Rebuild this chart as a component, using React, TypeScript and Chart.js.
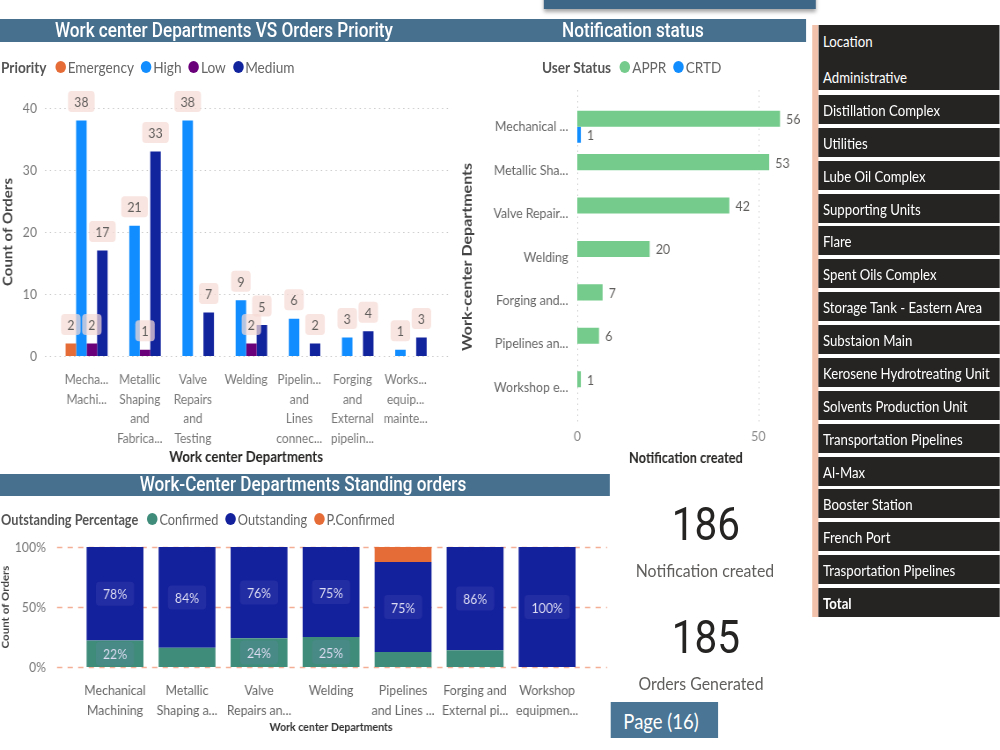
import React, { useEffect, useRef } from "react";
import { Chart, registerables } from "chart.js";

Chart.register(...registerables);

// ---------- data ----------
const priorityDepartments = [
  ["Mecha...", "Machi..."],
  ["Metallic", "Shaping", "and", "Fabrica..."],
  ["Valve", "Repairs", "and", "Testing"],
  ["Welding"],
  ["Pipelin...", "and", "Lines", "connec..."],
  ["Forging", "and", "External", "pipelin..."],
  ["Works...", "equip...", "mainte..."],
];
const priorityNames = ["Emergency", "High", "Low", "Medium"];
const priorityColors = ["#e66c37", "#118dff", "#6b007b", "#12239e"];
const emergencyOrders = [2, null, null, null, null, null, null];
const highOrders = [38, 21, 38, 9, 6, 3, 1];
const lowOrders = [2, 1, null, 2, null, null, null];
const mediumOrders = [17, 33, 7, 5, 2, 4, 3];
const priorityTicks = [0, 10, 20, 30, 40];

const notificationDepartments = [
  "Mechanical ...",
  "Metallic Sha...",
  "Valve Repair...",
  "Welding",
  "Forging and...",
  "Pipelines an...",
  "Workshop e...",
];
const statusNames = ["APPR", "CRTD"];
const statusColors = ["#74cb8b", "#118dff"];
const apprNotifications = [56, 53, 42, 20, 7, 6, 1];
const crtdNotifications = [1, null, null, null, null, null, null];
const notificationTicks = [0, 50];

const standingDepartments = [
  ["Mechanical", "Machining"],
  ["Metallic", "Shaping a..."],
  ["Valve", "Repairs an..."],
  ["Welding"],
  ["Pipelines", "and Lines ..."],
  ["Forging and", "External pi..."],
  ["Workshop", "equipmen..."],
];
const standingNames = ["Confirmed", "Outstanding", "P.Confirmed"];
const standingColors = ["#3f8c7a", "#14219c", "#e66c37"];
const confirmedPct = [22, 16, 24, 25, 12.5, 14, 0];
const outstandingPct = [78, 84, 76, 75, 75, 86, 100];
const pConfirmedPct = [0, 0, 0, 0, 12.5, 0, 0];
const percentTicks = [0, 50, 100];

const locations = [
  "Distillation Complex",
  "Utilities",
  "Lube Oil Complex",
  "Supporting Units",
  "Flare",
  "Spent Oils Complex",
  "Storage Tank - Eastern Area",
  "Substaion Main",
  "Kerosene Hydrotreating Unit",
  "Solvents Production Unit",
  "Transportation Pipelines",
  "Al-Max",
  "Booster Station",
  "French Port",
  "Trasportation Pipelines",
];
const notificationsCreated = 186;
const ordersGenerated = 185;
const pageNumber = 16;

// ---------- layout helpers ----------
// The whole report is laid out on a wider stage and squeezed horizontally.
const S = 0.88;
const sx = (v: number) => v / S;
const BODY = "Lato, 'Open Sans', sans-serif";
const HEAD = "Roboto, 'Noto Sans', sans-serif";
const BAND = "#47708f";

Chart.defaults.font.family = BODY;

// Dotted / dashed guide lines that run a little past the plot area.
const guideLines = {
  id: "guideLines",
  beforeDatasetsDraw(chart: any, _a: any, o: any) {
    if (!o || !o.axis) return;
    const { ctx, chartArea } = chart;
    const scale = chart.scales[o.axis];
    ctx.save();
    ctx.strokeStyle = o.color;
    ctx.lineWidth = o.width || 1;
    ctx.setLineDash([o.on, o.off]);
    scale.ticks.forEach((t: any) => {
      const p = Math.round(scale.getPixelForValue(t.value)) + 0.5;
      ctx.beginPath();
      if (o.axis === "y") {
        ctx.moveTo(chartArea.left - o.before, p);
        ctx.lineTo(chartArea.right + o.after, p);
      } else {
        ctx.moveTo(p, chartArea.top - o.before);
        ctx.lineTo(p, chartArea.bottom + o.after);
      }
      ctx.stroke();
    });
    ctx.restore();
  },
};

// Value tags above the grouped priority bars.
const priorityTags = {
  id: "priorityTags",
  afterDatasetsDraw(chart: any) {
    const { ctx } = chart;
    ctx.save();
    ctx.font = `14px ${BODY}`;
    ctx.textAlign = "center";
    ctx.textBaseline = "middle";
    chart.data.datasets.forEach((ds: any, i: number) => {
      chart.getDatasetMeta(i).data.forEach((el: any, j: number) => {
        const v = ds.data[j];
        if (v == null) return;
        const { x, y } = el.getProps(["x", "y"], true);
        const cy = y - 19;
        const text = String(v);
        const w = ctx.measureText(text).width + 14;
        const h = 21;
        ctx.fillStyle = "rgba(245, 218, 212, 0.72)";
        ctx.beginPath();
        ctx.roundRect(x - w / 2, cy - h / 2, w, h, 4);
        ctx.fill();
        ctx.fillStyle = "#605e5c";
        ctx.fillText(text, x, cy + 1);
      });
    });
    ctx.restore();
  },
};

// Values printed at the end of the horizontal bars.
const endValues = {
  id: "endValues",
  afterDatasetsDraw(chart: any) {
    const { ctx } = chart;
    ctx.save();
    ctx.font = `14px ${BODY}`;
    ctx.textAlign = "left";
    ctx.textBaseline = "middle";
    ctx.fillStyle = "#605e5c";
    chart.data.datasets.forEach((ds: any, i: number) => {
      chart.getDatasetMeta(i).data.forEach((el: any, j: number) => {
        const v = ds.data[j];
        if (v == null) return;
        const { x, y } = el.getProps(["x", "y"], true);
        ctx.fillText(String(v), x + 7, y + 1);
      });
    });
    ctx.restore();
  },
};

// Percent tags in the middle of the stacked segments.
const segmentTags = {
  id: "segmentTags",
  afterDatasetsDraw(chart: any) {
    const { ctx } = chart;
    ctx.save();
    ctx.font = `14px ${BODY}`;
    ctx.textAlign = "center";
    ctx.textBaseline = "middle";
    chart.data.datasets.forEach((ds: any, i: number) => {
      if (ds.label === "P.Confirmed") return;
      chart.getDatasetMeta(i).data.forEach((el: any, j: number) => {
        const v = ds.data[j];
        if (!v || v < 20) return;
        const { x, y, base } = el.getProps(["x", "y", "base"], true);
        const cy = (y + base) / 2;
        const text = `${v}%`;
        const w = ctx.measureText(text).width + 16;
        const h = 24;
        ctx.fillStyle = "rgba(140, 120, 210, 0.12)";
        ctx.beginPath();
        ctx.roundRect(x - w / 2, cy - h / 2, w, h, 4);
        ctx.fill();
        ctx.fillStyle = "#dcdcf2";
        ctx.fillText(text, x, cy + 1);
      });
    });
    ctx.restore();
  },
};

const flatX = { grid: { display: false, drawTicks: false }, border: { display: false } };
// Tick length (not drawn) keeps the labels off the plot without growing the top padding.
const flatY = (gap: number) => ({
  grid: { display: false, drawTicks: true, tickLength: gap },
  border: { display: false },
});

function priorityConfig(): any {
  const series = [emergencyOrders, highOrders, lowOrders, mediumOrders];
  return {
    type: "bar",
    data: {
      labels: priorityDepartments,
      datasets: priorityNames.map((n, i) => ({
        label: n,
        data: series[i],
        backgroundColor: priorityColors[i],
        categoryPercentage: 0.79,
        barPercentage: 1,
      })),
    },
    options: {
      responsive: false,
      animation: false,
      layout: { padding: { top: 28, right: sx(28), left: 0, bottom: 0 } },
      plugins: {
        legend: { display: false },
        tooltip: { enabled: false },
        guideLines: { axis: "y", color: "#c8c8c8", on: 1.5, off: 4, before: sx(15), after: sx(18) },
      },
      scales: {
        x: {
          ...flatX,
          ticks: {
            autoSkip: false,
            maxRotation: 0,
            minRotation: 0,
            padding: 14,
            color: "#777",
            font: { size: 13.5, lineHeight: 1.45 },
          },
          title: {
            display: true,
            text: "Work center Departments",
            color: "#252423",
            font: { size: 15, weight: "bold" },
            padding: { top: 0, bottom: 4 },
          },
          afterFit(s: any) {
            s.height = 114;
          },
        },
        y: {
          ...flatY(sx(23)),
          min: priorityTicks[0],
          max: priorityTicks[priorityTicks.length - 1],
          afterBuildTicks(s: any) {
            s.ticks = priorityTicks.map((v) => ({ value: v }));
          },
          ticks: { padding: 0, color: "#777", font: { size: 14 } },
          title: {
            display: true,
            text: "Count of Orders",
            color: "#444",
            font: { size: 15, weight: "bold", lineHeight: 1 },
            padding: { top: 2, bottom: 0 },
          },
          afterFit(s: any) {
            s.width = sx(60);
          },
        },
      },
    },
    plugins: [guideLines, priorityTags],
  };
}

function notificationConfig(): any {
  const series = [apprNotifications, crtdNotifications];
  return {
    type: "bar",
    data: {
      labels: notificationDepartments,
      datasets: statusNames.map((n, i) => ({
        label: n,
        data: series[i],
        backgroundColor: statusColors[i],
        categoryPercentage: 0.74,
        barPercentage: 1,
      })),
    },
    options: {
      indexAxis: "y",
      responsive: false,
      animation: false,
      layout: { padding: { top: 15, right: sx(16), left: 0, bottom: 0 } },
      plugins: {
        legend: { display: false },
        tooltip: { enabled: false },
        guideLines: { axis: "x", color: "#cfcfcf", on: 1.5, off: 4, before: 15, after: 14 },
      },
      scales: {
        x: {
          ...flatX,
          min: 0,
          max: 60,
          afterBuildTicks(s: any) {
            s.ticks = notificationTicks.map((v) => ({ value: v }));
          },
          ticks: { padding: 19, color: "#888", font: { size: 14 } },
          title: {
            display: true,
            text: "Notification created",
            color: "#252423",
            font: { size: 14.5, weight: "bold" },
            padding: { top: 0, bottom: 3 },
          },
          afterFit(s: any) {
            s.height = 61;
          },
        },
        y: {
          ...flatY(sx(9)),
          ticks: { autoSkip: false, padding: 0, color: "#666", font: { size: 14 } },
          title: {
            display: true,
            text: "Work-center Departments",
            color: "#444",
            font: { size: 16, weight: "bold", lineHeight: 1 },
            padding: { top: 0, bottom: 0 },
          },
          afterFit(s: any) {
            s.width = sx(117);
          },
        },
      },
    },
    plugins: [guideLines, endValues],
  };
}

function standingConfig(): any {
  const series = [confirmedPct, outstandingPct, pConfirmedPct];
  return {
    type: "bar",
    data: {
      labels: standingDepartments,
      datasets: standingNames.map((n, i) => ({
        label: n,
        data: series[i],
        backgroundColor: standingColors[i],
        categoryPercentage: 1,
        barPercentage: 0.79,
      })),
    },
    options: {
      responsive: false,
      animation: false,
      layout: { padding: { top: 17, right: sx(28.5), left: 0, bottom: 0 } },
      plugins: {
        legend: { display: false },
        tooltip: { enabled: false },
        guideLines: {
          axis: "y",
          color: "#f3ae95",
          width: 1.5,
          on: 6,
          off: 6,
          before: sx(22),
          after: sx(24),
        },
      },
      scales: {
        x: {
          ...flatX,
          stacked: true,
          ticks: {
            autoSkip: false,
            maxRotation: 0,
            minRotation: 0,
            padding: 13,
            color: "#666",
            font: { size: 14, lineHeight: 1.43 },
          },
          title: {
            display: true,
            text: "Work center Departments",
            color: "#333",
            font: { size: 12, weight: "bold" },
            padding: { top: 0, bottom: 11 },
          },
          afterFit(s: any) {
            s.height = 78;
          },
        },
        y: {
          ...flatY(sx(33)),
          stacked: true,
          min: 0,
          max: 100,
          afterBuildTicks(s: any) {
            s.ticks = percentTicks.map((v) => ({ value: v }));
          },
          ticks: {
            padding: 0,
            color: "#777",
            font: { size: 14 },
            callback: (v: any) => `${v}%`,
          },
          title: {
            display: true,
            text: "Count of Orders",
            color: "#444",
            font: { size: 11.5, weight: "bold", lineHeight: 1 },
            padding: { top: 1, bottom: 0 },
          },
          afterFit(s: any) {
            s.width = sx(79);
          },
        },
      },
    },
    plugins: [guideLines, segmentTags],
  };
}

function ChartBox(props: { left: number; top: number; width: number; height: number; build: () => any }) {
  const ref = useRef<HTMLCanvasElement>(null);
  const w = Math.round(sx(props.width));
  useEffect(() => {
    const chart = new Chart(ref.current as HTMLCanvasElement, props.build());
    return () => chart.destroy();
  }, []);
  return (
    <div style={{ position: "absolute", left: sx(props.left), top: props.top, width: w, height: props.height }}>
      <canvas ref={ref} width={w} height={props.height} style={{ display: "block" }} />
    </div>
  );
}

function Legend(props: {
  x: number;
  y: number;
  title: string;
  names: string[];
  colors: string[];
  size: number;
  gap: number;
}) {
  return (
    <div
      style={{
        position: "absolute",
        left: sx(props.x),
        top: props.y - 12,
        height: 24,
        display: "flex",
        alignItems: "center",
        whiteSpace: "nowrap",
        fontFamily: BODY,
        fontSize: props.size,
        color: "#666",
      }}
    >
      <span style={{ fontWeight: 700, color: "#555", marginRight: props.gap + 2 }}>{props.title}</span>
      {props.names.map((n, i) => (
        <span key={n} style={{ display: "inline-flex", alignItems: "center", marginRight: props.gap }}>
          <span
            style={{
              display: "inline-block",
              width: 12,
              height: 12,
              borderRadius: "50%",
              background: props.colors[i],
              marginRight: 2,
            }}
          />
          {n}
        </span>
      ))}
    </div>
  );
}

function Centered(props: { cx: number; cy: number; style: React.CSSProperties; children: React.ReactNode }) {
  return (
    <div
      style={{
        position: "absolute",
        left: sx(props.cx),
        top: props.cy,
        transform: "translate(-50%, -50%)",
        whiteSpace: "nowrap",
        lineHeight: 1,
        ...props.style,
      }}
    >
      {props.children}
    </div>
  );
}

const bandText: React.CSSProperties = { fontFamily: HEAD, fontSize: 19.5, fontWeight: 500, color: "#fff" };
const rowText: React.CSSProperties = { fontFamily: BODY, fontSize: 15, color: "#fff" };

export default function App() {
  return (
    <div style={{ position: "fixed", left: 0, top: 0, width: 1000, height: 750, overflow: "hidden", background: "#fff" }}>
      <div
        style={{
          position: "absolute",
          left: 0,
          top: 0,
          width: sx(1000),
          height: 750,
          transform: `scaleX(${S})`,
          transformOrigin: "0 0",
        }}
      >
        {/* report header strip */}
        <div
          style={{
            position: "absolute",
            left: sx(544),
            top: -30,
            width: sx(272),
            height: 39,
            background: "#3e6686",
            boxShadow: "0 3px 4px rgba(0,0,0,0.35)",
          }}
        />

        {/* section bands */}
        <div style={{ position: "absolute", left: 0, top: 19, width: sx(806), height: 23, background: BAND }} />
        <Centered cx={224} cy={31} style={bandText}>
          Work center Departments VS Orders Priority
        </Centered>
        <Centered cx={633} cy={31} style={bandText}>
          Notification status
        </Centered>
        <div style={{ position: "absolute", left: 0, top: 474, width: sx(610), height: 22, background: BAND }} />
        <Centered cx={303} cy={485} style={bandText}>
          Work-Center Departments Standing orders
        </Centered>

        {/* legends */}
        <Legend x={1} y={67} title="Priority" names={priorityNames} colors={priorityColors} size={15.5} gap={8} />
        <Legend x={542} y={67} title="User Status" names={statusNames} colors={statusColors} size={15.5} gap={8} />
        <Legend
          x={1}
          y={519}
          title="Outstanding Percentage"
          names={standingNames}
          colors={standingColors}
          size={14.5}
          gap={8}
        />

        {/* charts */}
        <ChartBox left={0} top={80} width={460} height={390} build={priorityConfig} />
        <ChartBox left={460} top={90} width={350} height={380} build={notificationConfig} />
        <ChartBox left={0} top={530} width={612} height={215} build={standingConfig} />

        {/* location list */}
        <div style={{ position: "absolute", left: sx(812), top: 25, width: sx(6), height: 592, background: "#f2c1ab" }} />
        <div style={{ position: "absolute", left: sx(818), top: 25, width: sx(182), height: 65, background: "#252423" }} />
        <div style={{ position: "absolute", left: sx(823), top: 41, transform: "translateY(-50%)", ...rowText }}>
          Location
        </div>
        <div style={{ position: "absolute", left: sx(823), top: 77, transform: "translateY(-50%)", ...rowText }}>
          Administrative
        </div>
        {locations.concat(["Total"]).map((name, i) => {
          const c = 110 + 32.87 * i;
          return (
            <div
              key={name}
              style={{
                position: "absolute",
                left: sx(818),
                top: c - 15,
                width: sx(182),
                height: 29,
                background: "#252423",
              }}
            >
              <div
                style={{
                  position: "absolute",
                  left: sx(5),
                  top: 15,
                  transform: "translateY(-50%)",
                  whiteSpace: "nowrap",
                  ...rowText,
                  fontWeight: name === "Total" ? 700 : 400,
                }}
              >
                {name}
              </div>
            </div>
          );
        })}

        {/* totals */}
        <Centered cx={706} cy={524} style={{ fontFamily: HEAD, fontSize: 46, color: "#252423" }}>
          {notificationsCreated}
        </Centered>
        <Centered cx={705} cy={570} style={{ fontFamily: BODY, fontSize: 18, color: "#605e5c" }}>
          Notification created
        </Centered>
        <Centered cx={706} cy={637} style={{ fontFamily: HEAD, fontSize: 46, color: "#252423" }}>
          {ordersGenerated}
        </Centered>
        <Centered cx={701} cy={683} style={{ fontFamily: BODY, fontSize: 18, color: "#605e5c" }}>
          Orders Generated
        </Centered>

        {/* page tag */}
        <div
          style={{
            position: "absolute",
            left: sx(611),
            top: 702,
            width: sx(107),
            height: 36,
            background: "#4b7594",
          }}
        />
        <Centered cx={661} cy={720} style={{ fontFamily: BODY, fontSize: 21, color: "#fff" }}>
          {`Page (${pageNumber})`}
        </Centered>
      </div>
    </div>
  );
}
